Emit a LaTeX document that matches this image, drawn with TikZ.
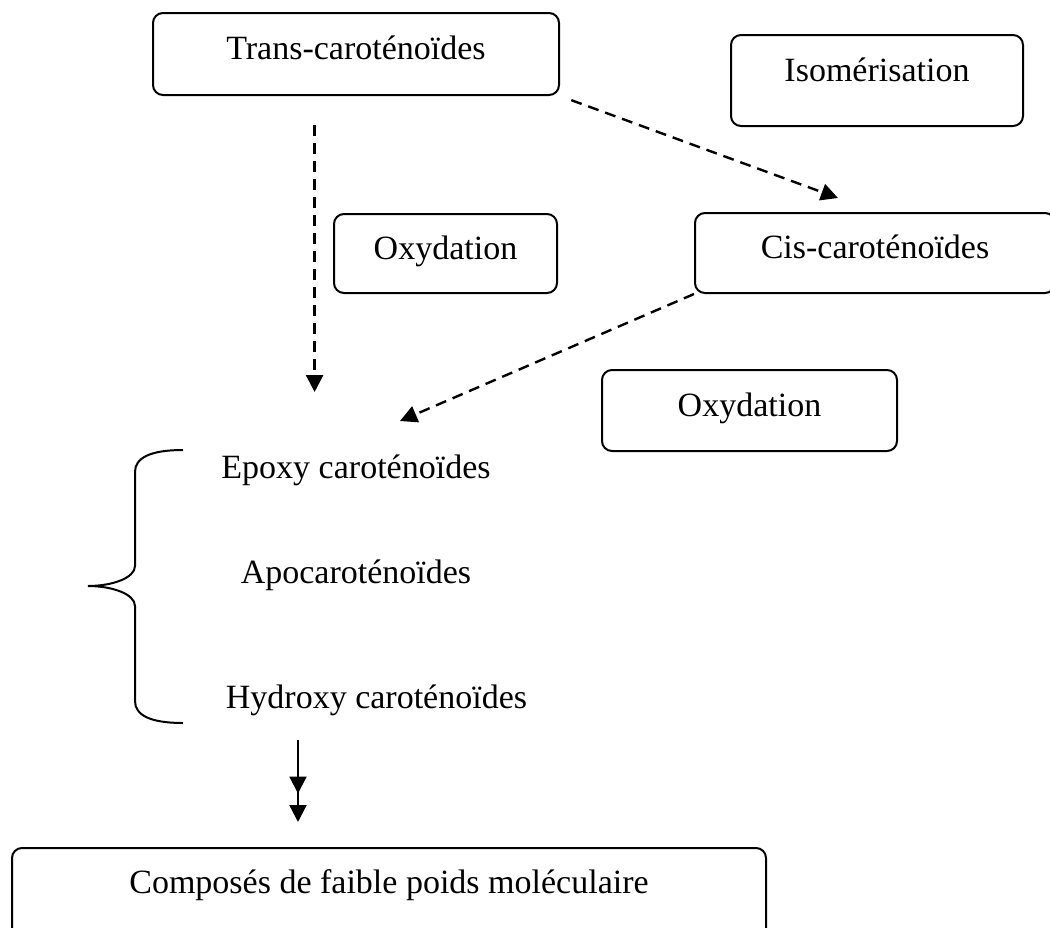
\documentclass[tikz,border=0pt]{standalone}
\usepackage{fontspec}
\setmainfont{Liberation Serif}
\usetikzlibrary{arrows.meta,decorations.markings}
\tikzset{
stepbox/.style={draw, line width=2pt, rounded corners=10pt, anchor=north, inner sep=0pt, text height=45pt, text depth=35pt},
prodtext/.style={anchor=base, inner sep=0pt},
dasharrow/.style={line width=2.4pt, dash pattern=on 11pt off 7pt, -{Triangle[length=17pt,width=17pt]}},
twoarrow/.style={line width=2.2pt, -{Triangle[length=17pt,width=17pt]}, postaction={decorate},
  decoration={markings, mark=at position 0.5 with {\arrow{Triangle[length=17pt,width=17pt]}}}}
}
\begin{document}
\begin{tikzpicture}[x=1pt,y=-1pt,font=\fontsize{34pt}{40pt}\selectfont]
\useasboundingbox (0,0) rectangle (1050,927);
\clip (0,0) rectangle (1050,927);
% boxes
\node[stepbox, minimum width=406pt, text height=46pt, text depth=36pt] (trans) at (356,12) {Trans-caroténoïdes};
\node[stepbox, minimum width=292pt, text height=46pt, text depth=45pt] (isom) at (877,34) {Isomérisation};
\node[stepbox, minimum width=223pt, text depth=34pt] (oxyleft) at (445.5,213) {Oxydation};
\node[stepbox, minimum width=360pt] (cis) at (875,212) {Cis-caroténoïdes};
\node[stepbox, minimum width=295pt, text height=46pt] (oxyright) at (749.5,369) {Oxydation};
\node[stepbox, minimum width=754pt, text depth=45pt] (compose) at (389,847) {Composés de faible poids moléculaire};
% products
\node[prodtext] (epoxy) at (356,478) {Epoxy caroténoïdes};
\node[prodtext] (apo) at (356,583) {Apocaroténoïdes};
\node[prodtext] (hydroxy) at (376.5,708) {Hydroxy caroténoïdes};
% brace
\draw[line width=2pt] (183,450) .. controls (150,450) and (135,458) .. (135,472) -- (135,566)
  .. controls (135,578) and (112,586) .. (88,586) .. controls (112,586) and (135,594) .. (135,606)
  -- (135,701) .. controls (135,715) and (150,723) .. (183,723);
% arrows
\coordinate (dropA) at (314.6,125);
\coordinate (dropB) at (314.6,392);
\coordinate (cisin) at (838,198);
\coordinate (epoin) at (400,421);
\coordinate (hyout) at (298,740);
\draw[dasharrow, line width=2.8pt] (dropA) -- (dropB);
\draw[dasharrow, shorten <=12pt] (trans.south east) -- (cisin);
\draw[dasharrow] (cis.south west) -- (epoin);
\draw[twoarrow, shorten >=25pt] (hyout) -- (compose.north -| hyout);
\end{tikzpicture}
\end{document}
